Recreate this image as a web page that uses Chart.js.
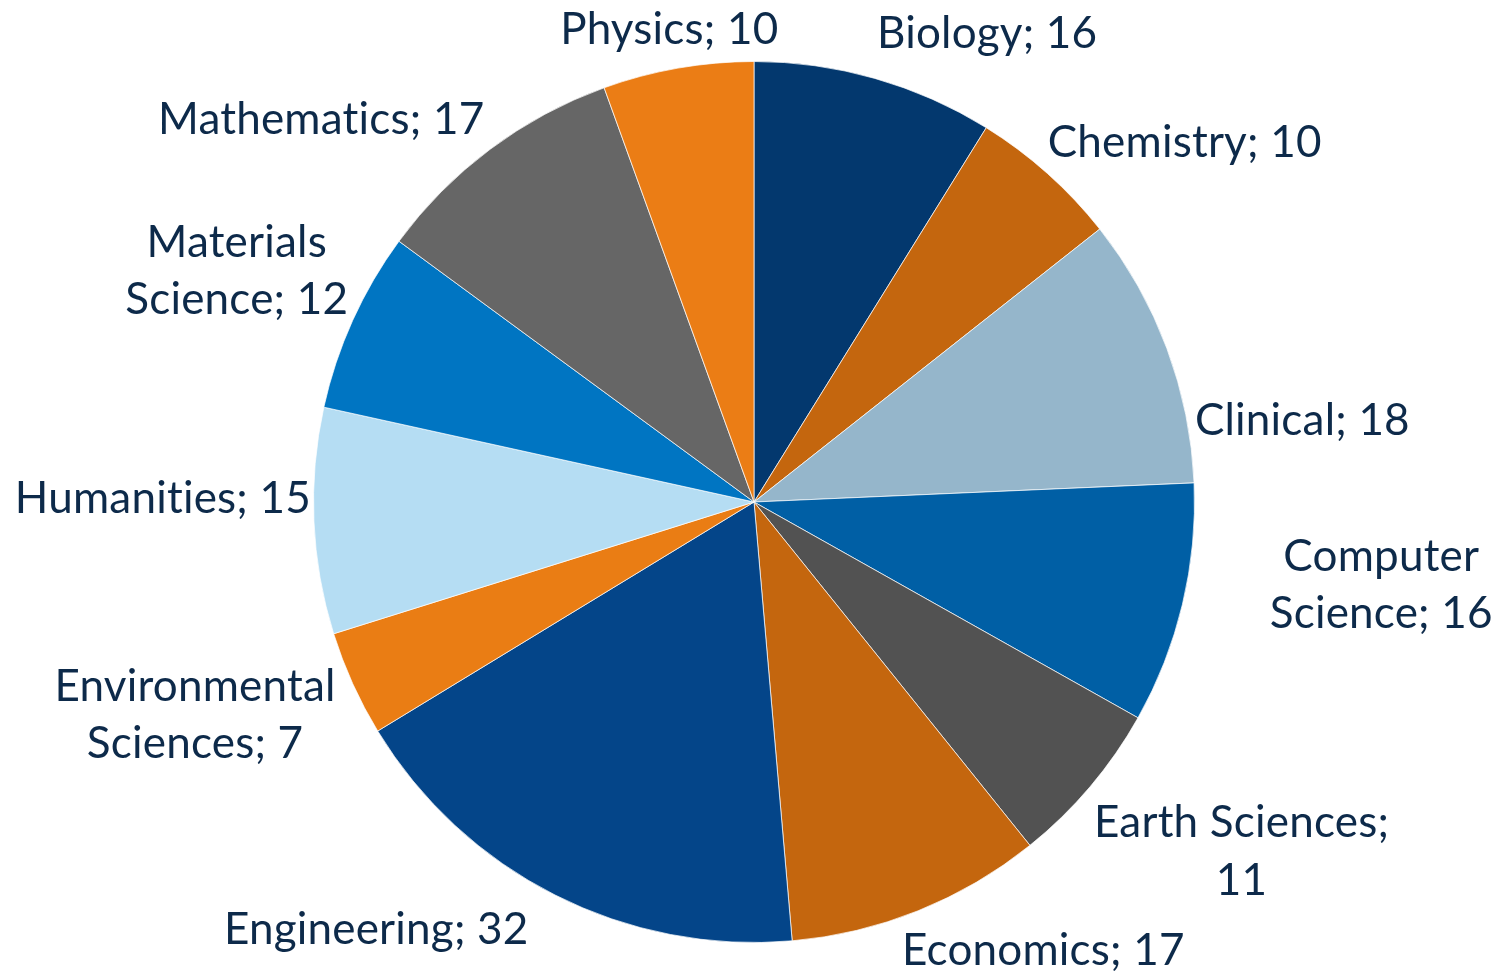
<!DOCTYPE html>
<html>
<head>
<meta charset="utf-8">
<script src="https://cdn.jsdelivr.net/npm/chart.js@4.4.1/dist/chart.umd.min.js"></script>
<style>
  html, body { margin: 0; padding: 0; background: #ffffff; }
  #wrap { width: 1505px; height: 972px; }
</style>
</head>
<body>
<div id="wrap"><canvas id="pieChart"></canvas></div>
<script>
// Data
var fields = ['Biology', 'Chemistry', 'Clinical', 'Computer Science', 'Earth Sciences',
  'Economics', 'Engineering', 'Environmental Sciences', 'Humanities', 'Materials Science',
  'Mathematics', 'Physics'];
var counts = [16, 10, 18, 16, 11, 17, 32, 7, 15, 12, 17, 10];
var sliceColors = ['#03386E', '#C4660E', '#95B6CB', '#005FA5', '#525252', '#C4660E',
  '#044589', '#EA7D14', '#B5DDF3', '#0075C2', '#666666', '#EB7D15'];

// where each label sits: [angle shift from slice middle (deg), distance / radius]
var labelPlacement = [
  [10.5, 1.190], [8.3, 1.275], [11.8, 1.259], [-6.0, 1.436], [-4.75, 1.360], [-11.0, 1.210],
  [14.7, 1.293], [3.6, 1.357], [3.0, 1.342], [-0.2, 1.287], [-11.6, 1.314], [-0.2, 1.092]
];

var labelFont = 'Lato';
var labelSize = 44;
var labelColor = '#0D2A4A';
var wrapWidth = 335;

function wrapText(ctx, text, maxW) {
  var words = text.split(' ');
  var lines = [];
  var cur = '';
  words.forEach(function(w) {
    var test = cur ? cur + ' ' + w : w;
    if (cur && ctx.measureText(test).width > maxW) {
      lines.push(cur);
      cur = w;
    } else {
      cur = test;
    }
  });
  if (cur) lines.push(cur);
  return lines;
}

var outsideLabels = {
  id: 'outsideLabels',
  afterDatasetsDraw: function(chart) {
    var ctx = chart.ctx;
    var meta = chart.getDatasetMeta(0);
    ctx.save();
    ctx.font = labelSize + 'px ' + labelFont;
    // tiny spacing keeps Lato from drawing the "ti" ligature
    if ('letterSpacing' in ctx) ctx.letterSpacing = '0.2px';
    ctx.fillStyle = labelColor;
    ctx.textAlign = 'center';
    ctx.textBaseline = 'alphabetic';
    var lineH = labelSize * 1.3;
    var capH = labelSize * 0.72;
    meta.data.forEach(function(arc, i) {
      var p = arc.getProps(['x', 'y', 'startAngle', 'endAngle', 'outerRadius'], true);
      var place = labelPlacement[i];
      var a = (p.startAngle + p.endAngle) / 2 + place[0] * Math.PI / 180;
      var cx = p.x + Math.cos(a) * p.outerRadius * place[1];
      var cy = p.y + Math.sin(a) * p.outerRadius * place[1];
      var lines = wrapText(ctx, fields[i] + '; ' + counts[i], wrapWidth);
      var top = cy - (lines.length - 1) * lineH / 2;
      lines.forEach(function(line, k) {
        ctx.fillText(line, cx, top + k * lineH + capH / 2);
      });
    });
    ctx.restore();
  }
};

new Chart(document.getElementById('pieChart').getContext('2d'), {
  type: 'pie',
  data: {
    labels: fields,
    datasets: [{
      data: counts,
      backgroundColor: sliceColors,
      borderColor: 'rgba(255,255,255,0.7)',
      borderWidth: 1
    }]
  },
  options: {
    responsive: true,
    maintainAspectRatio: false,
    animation: false,
    layout: {
      padding: { top: 61, bottom: 29, left: 313, right: 310 }
    },
    plugins: {
      legend: { display: false },
      tooltip: { enabled: false }
    }
  },
  plugins: [outsideLabels]
});
</script>
</body>
</html>
